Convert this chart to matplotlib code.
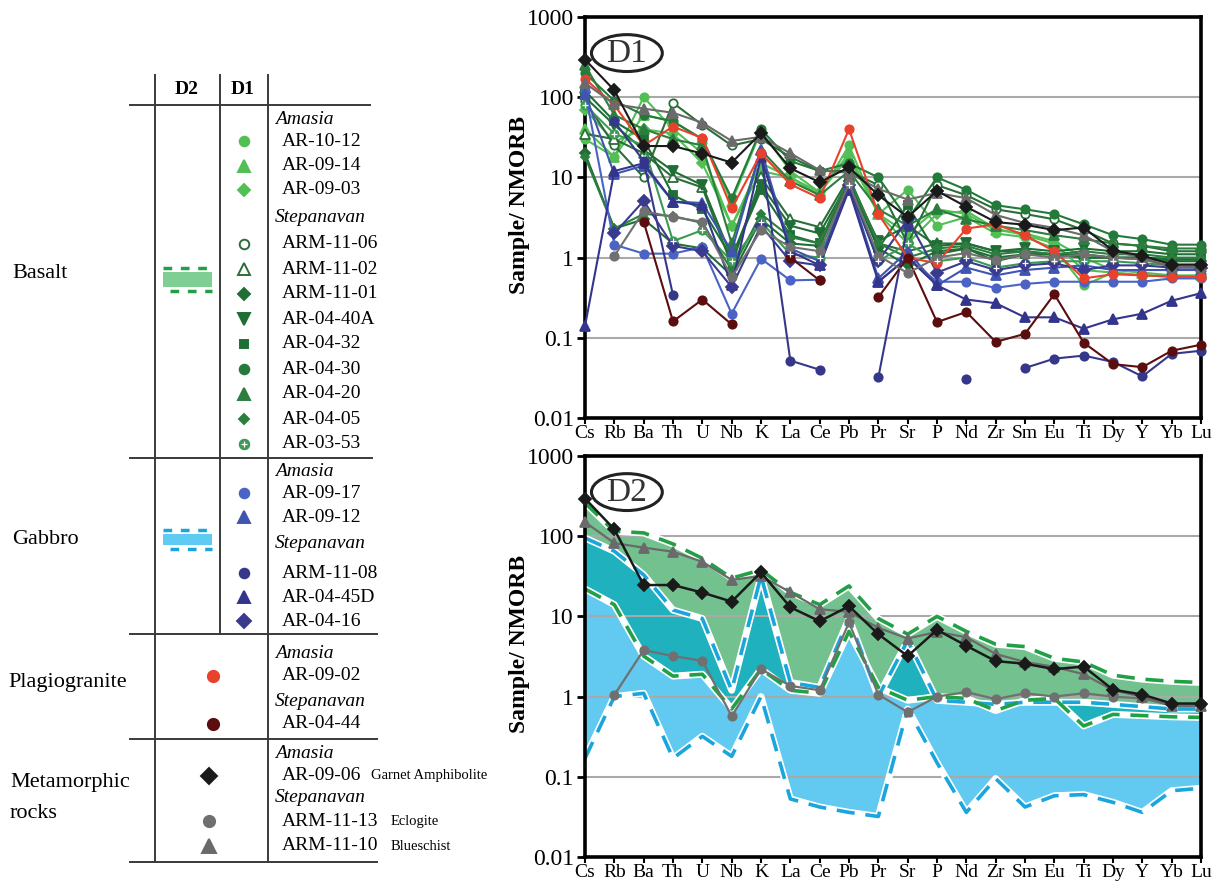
import numpy as np
import matplotlib
matplotlib.use('Agg')
import matplotlib.pyplot as plt
from matplotlib.patches import Ellipse, Rectangle
from matplotlib.ticker import NullLocator

plt.rcParams['font.family'] = ['Liberation Serif', 'DejaVu Serif']

#############################################################################
# data (Sample / NMORB)

elements = ['Cs', 'Rb', 'Ba', 'Th', 'U', 'Nb', 'K', 'La', 'Ce', 'Pb', 'Pr',
            'Sr', 'P', 'Nd', 'Zr', 'Sm', 'Eu', 'Ti', 'Dy', 'Y', 'Yb', 'Lu']
nan = np.nan

# basalt, Amasia
ar_10_12 = [30, 18, 100, 40, 20, 2.5, 15, 10, 6.0, 25, 3.5, 7.0, 2.5, 3.2, 2.0, 1.8, 1.3, 0.45, 0.65, 0.6, 0.58, 0.58]
ar_09_14 = [40, 18, 60, 50, 30, 5.0, 38, 12, 6.5, 20, 3.5, 2.0, 4.0, 3.5, 2.2, 2.0, 1.6, 1.0, 0.7, 0.65, 0.6, 0.6]
ar_09_03 = [70, 28, 40, 35, 15, 2.5, 12, 10, 6.5, 18, 3.5, 1.5, 3.5, 3.8, 2.3, 1.9, 1.5, 0.7, 0.65, 0.6, 0.58, 0.58]
# basalt, Stepanavan
arm_11_06 = [90, 25, 10, 85, 45, 25, 30, 18, 12, 12, 8.0, 1.5, 8.0, 6.0, 4.0, 3.5, 3.0, 2.2, 1.5, 1.4, 1.2, 1.2]
arm_11_02 = [35, 30, 20, 10, 7.5, 0.8, 10, 3.0, 2.4, 10, 1.5, 1.2, 1.5, 1.5, 1.2, 1.2, 1.1, 1.1, 1.0, 1.0, 0.95, 0.95]
arm_11_01 = [20, 2.3, 3.0, 1.5, 1.3, 0.6, 3.0, 1.5, 1.4, 9.0, 1.3, 0.8, 1.2, 1.3, 1.0, 1.1, 1.1, 1.0, 1.0, 0.95, 0.9, 0.9]
ar_04_40a = [100, 45, 22, 12, 8.0, 1.0, 8.0, 2.5, 2.0, 9.0, 1.6, 2.5, 1.4, 1.5, 1.2, 1.3, 1.2, 1.3, 1.2, 1.2, 1.1, 1.1]
ar_04_32 = [120, 50, 30, 6.0, 4.0, 1.0, 7.0, 1.9, 1.5, 10, 1.3, 4.5, 1.1, 1.3, 0.9, 1.1, 1.1, 1.0, 1.0, 1.0, 0.95, 0.95]
ar_04_30 = [200, 90, 60, 50, 30, 5.5, 40, 16, 12, 15, 10, 3.0, 10, 7.0, 4.5, 4.0, 3.5, 2.6, 1.9, 1.7, 1.45, 1.45]
ar_04_20 = [250, 60, 40, 30, 25, 1.5, 22, 9.0, 6.0, 12, 4.0, 2.5, 4.0, 3.0, 2.5, 2.2, 1.9, 1.7, 1.5, 1.4, 1.3, 1.3]
ar_04_05 = [18, 2.3, 3.5, 3.3, 2.7, 0.7, 3.5, 1.8, 1.5, 10, 1.5, 1.0, 1.3, 1.4, 1.1, 1.2, 1.1, 1.2, 1.1, 1.1, 1.0, 1.0]
ar_03_53 = [80, 35, 25, 1.6, 2.2, 0.9, 2.8, 1.1, 1.0, 8.0, 0.9, 1.5, 0.9, 1.0, 0.75, 0.85, 0.9, 0.9, 0.9, 0.85, 0.8, 0.8]
# gabbro
ar_09_17 = [120, 1.45, 1.12, 1.12, 1.35, 0.2, 0.97, 0.52, 0.53, nan, 0.5, 1.0, 0.5, 0.5, 0.42, 0.47, 0.5, 0.5, 0.5, 0.5, 0.55, 0.55]
ar_09_12 = [110, 11, 14, 5.0, 4.8, 1.2, 22, 1.3, 0.9, 8.0, 0.55, 1.2, 0.45, 0.75, 0.6, 0.7, 0.75, 0.8, 0.7, 0.7, 0.7, 0.7]
arm_11_08 = [nan, 50, 16, 0.34, nan, nan, 20, 0.052, 0.04, nan, 0.032, 2.5, nan, 0.031, nan, 0.042, 0.055, 0.06, 0.05, 0.033, 0.063, 0.069]
ar_04_45d = [0.14, 12, 15, 5.0, 4.5, 0.45, 18, 1.2, 0.8, 7.0, 0.5, 1.0, 0.45, 0.3, 0.27, 0.18, 0.18, 0.13, 0.17, 0.2, 0.29, 0.36]
ar_04_16 = [nan, 2.0, 5.1, 1.4, 1.2, 0.43, 2.5, 0.9, 0.8, 8.0, 0.9, 3.0, 0.65, 0.9, 0.7, 0.8, 0.85, 0.7, 0.8, 0.8, 0.75, 0.75]
# plagiogranite
ar_09_02 = [170, 80, 25, 43, 31, 4.1, 20, 8.2, 5.5, 40, 3.5, 1.0, 0.85, 2.3, 2.6, 1.9, 1.2, 0.55, 0.62, 0.6, 0.58, 0.58]
ar_04_44 = [nan, nan, 2.8, 0.16, 0.3, 0.147, nan, 1.0, 0.52, nan, 0.32, 1.0, 0.157, 0.21, 0.089, 0.112, 0.35, 0.087, 0.047, 0.043, 0.069, 0.082]
# metamorphic rocks
ar_09_06 = [295, 122, 24.6, 24.6, 19.8, 15.3, 35.5, 13, 8.7, 13.4, 6.0, 3.2, 6.8, 4.3, 2.77, 2.57, 2.2, 2.37, 1.22, 1.06, 0.82, 0.82]
arm_11_13 = [nan, 1.05, 3.8, 3.2, 2.8, 0.57, 2.2, 1.36, 1.2, 8.4, 1.06, 0.64, 1.0, 1.14, 0.93, 1.1, 1.0, 1.1, 1.0, 0.95, 0.78, 0.8]
arm_11_10 = [150, 82, 72, 64, 48, 28.5, 32, 20, 12.3, 11.4, 7.2, 5.3, 6.4, 5.5, 3.4, 2.7, 2.35, 1.9, 1.2, 1.0, 0.76, 0.76]

# D2 fields
basalt_hi = [260, 115, 110, 80, 53, 30, 38, 20, 14, 24, 9.4, 6.0, 10, 6.5, 4.5, 4.2, 3.0, 2.7, 1.85, 1.65, 1.55, 1.5]
basalt_lo = [22, 14, 3.2, 1.8, 1.9, 0.7, 2.2, 1.2, 1.1, 6.5, 1.3, 0.9, 1.0, 0.95, 0.67, 0.9, 0.95, 0.43, 0.6, 0.58, 0.56, 0.55]
gabbro_hi = [95, 65, 33, 12, 9.4, 1.2, 32, 1.5, 1.3, 9.4, 1.0, 5.0, 0.9, 0.85, 0.8, 0.85, 0.85, 0.85, 0.8, 0.75, 0.7, 0.7]
gabbro_lo = [0.17, 1.0, 1.1, 0.17, 0.32, 0.18, 1.0, 0.053, 0.042, 0.036, 0.032, 0.7, 0.15, 0.036, 0.095, 0.042, 0.058, 0.06, 0.048, 0.036, 0.067, 0.072]

#############################################################################

x = np.arange(len(elements))

lt_green = '#52bf55'
dk_green = '#1f6e35'
md_green = '#2c7e3f'

# name, values, color, marker, open marker, size
samples = [
    ('AR-10-12', ar_10_12, lt_green, 'o', False, 6),
    ('AR-09-14', ar_09_14, lt_green, '^', False, 7),
    ('AR-09-03', ar_09_03, lt_green, 'D', False, 5.5),
    ('ARM-11-06', arm_11_06, '#2b6e3a', 'o', True, 6),
    ('ARM-11-02', arm_11_02, '#2b6e3a', '^', True, 7),
    ('ARM-11-01', arm_11_01, dk_green, 'D', False, 5.5),
    ('AR-04-40A', ar_04_40a, dk_green, 'v', False, 7),
    ('AR-04-32', ar_04_32, dk_green, 's', False, 5.5),
    ('AR-04-30', ar_04_30, '#237a3a', 'o', False, 6),
    ('AR-04-20', ar_04_20, md_green, '^', False, 7),
    ('AR-04-05', ar_04_05, md_green, 'D', False, 4.5),
    ('AR-03-53', ar_03_53, '#3c9a55', 'o', False, 6),
    ('AR-09-17', ar_09_17, '#4a63c4', 'o', False, 6),
    ('AR-09-12', ar_09_12, '#3f55b0', '^', False, 7),
    ('ARM-11-08', arm_11_08, '#35378a', 'o', False, 6),
    ('AR-04-45D', ar_04_45d, '#33358c', '^', False, 7),
    ('AR-04-16', ar_04_16, '#3a3a8f', 'D', False, 6),
    ('AR-09-02', ar_09_02, '#e8412c', 'o', False, 6),
    ('AR-04-44', ar_04_44, '#5c0d0d', 'o', False, 6),
    ('ARM-11-13', arm_11_13, '#707070', 'o', False, 6),
    ('ARM-11-10', arm_11_10, '#6a6a6a', '^', False, 7),
    ('AR-09-06', ar_09_06, '#1a1a1a', 'D', False, 6),
]


def draw_sample(ax, vals, color, marker, hollow, ms, lw=1.5, z=3):
    ax.plot(x, vals, color=color, lw=lw, marker=marker, ms=ms,
            mfc='white' if hollow else color, mec=color, mew=1.3,
            clip_on=False, zorder=z)
    if marker == 'o' and color == '#3c9a55':
        ax.plot(x, vals, ls='none', marker='+', ms=4, mec='white', mew=0.9,
                clip_on=False, zorder=z + 0.1)


def setup(ax, tag):
    ax.set_yscale('log')
    ax.set_ylim(0.01, 1000)
    ax.set_xlim(0, len(elements) - 1)
    ax.set_xticks(x)
    ax.set_xticklabels(elements, fontsize=14)
    ticks = [0.01, 0.1, 1, 10, 100, 1000]
    ax.set_yticks(ticks)
    ax.set_yticklabels(['0.01', '0.1', '1', '10', '100', '1000'], fontsize=17)
    ax.yaxis.set_minor_locator(NullLocator())
    for v in [0.1, 1, 10, 100]:
        ax.axhline(v, color='#a9a9a9', lw=1.5, zorder=1.5)
    for s in ax.spines.values():
        s.set_linewidth(2.6)
    ax.tick_params(axis='y', direction='out', length=6, width=2, pad=2)
    ax.tick_params(axis='x', direction='out', length=4, width=1.5, pad=1)
    ax.set_ylabel('Sample/ NMORB', fontsize=17, fontweight='bold')
    ax.yaxis.set_label_coords(-0.09, 0.53)
    ax.add_patch(Ellipse((0.068, 0.91), 0.115, 0.092, transform=ax.transAxes,
                         fill=False, lw=2.2, ec='#222222', zorder=6))
    ax.text(0.068, 0.908, tag, transform=ax.transAxes, ha='center',
            va='center', fontsize=24, color='#333333', zorder=6)


fig = plt.figure(figsize=(12.26, 8.85), dpi=100)

#############################################################################
# left table / legend in pixel coordinates

lax = fig.add_axes([0, 0, 1, 1], zorder=-1)
lax.set_xlim(0, 1226)
lax.set_ylim(885, 0)
lax.axis('off')

lc = '#3a3a3a'
for yy, x1 in [(105, 370), (458, 372), (634, 377), (739, 377), (862, 377)]:
    lax.plot([130, x1], [yy, yy], color=lc, lw=1.4)
lax.plot([155, 155], [75, 862], color=lc, lw=1.4)
lax.plot([220, 220], [75, 634], color=lc, lw=1.4)
lax.plot([268, 268], [75, 862], color=lc, lw=1.4)
lax.text(187, 89, 'D2', ha='center', va='center', fontsize=14, fontweight='bold')
lax.text(243, 89, 'D1', ha='center', va='center', fontsize=14, fontweight='bold')

lax.text(12, 273, 'Basalt', va='center', fontsize=16)
lax.text(12, 539, 'Gabbro', va='center', fontsize=16)
lax.text(8, 683, 'Plagiogranite', va='center', fontsize=16)
lax.text(10, 783, 'Metamorphic', va='center', fontsize=16)
lax.text(10, 813, 'rocks', va='center', fontsize=16)

groups = [('Amasia', 119), ('Stepanavan', 217), ('Amasia', 472), ('Stepanavan', 544),
          ('Amasia', 653), ('Stepanavan', 702), ('Amasia', 753), ('Stepanavan', 798)]
for g, yy in groups:
    lax.text(275, yy, g, va='center', fontsize=14, style='italic')

rows_y = [141, 166, 190, 244, 269, 294, 319, 344, 369, 394, 419, 444,
          493, 517, 573, 597, 621, 676, 724, 821, 846, 776]
rows_x = [244] * 17 + [213, 213, 209, 209, 209]
for (name, vals, color, marker, hollow, ms), yy, xx in zip(samples, rows_y, rows_x):
    big = 1.35 if xx < 220 else 1.15
    lax.plot([xx], [yy], marker=marker, ms=ms * big, color=color,
             mfc='white' if hollow else color, mec=color, mew=1.4, ls='none')
    if color == '#3c9a55':
        lax.plot([xx], [yy], marker='+', ms=4, mec='white', mew=0.9, ls='none')
    lax.text(282, yy, name, va='center', fontsize=14)

lax.text(371, 776, 'Garnet Amphibolite', va='center', fontsize=10.5)
lax.text(391, 821, 'Eclogite', va='center', fontsize=10.5)
lax.text(391, 846, 'Blueschist', va='center', fontsize=10.5)

# D2 field icons
lax.add_patch(Rectangle((163, 272), 49, 15, color='#7fcf95', lw=0))
lax.plot([163, 212], [268, 268], color='#22a046', lw=2.5, dashes=(2.5, 2.5))
lax.plot([170, 212], [291, 291], color='#22a046', lw=2.5, dashes=(2.5, 2.5))
lax.add_patch(Rectangle((163, 534), 49, 11, color='#5ecbf2', lw=0))
lax.plot([163, 212], [530, 530], color='#1aa6dc', lw=2.5, dashes=(2.5, 2.5))
lax.plot([170, 212], [549, 549], color='#1aa6dc', lw=2.5, dashes=(2.5, 2.5))

#############################################################################
# D1 spider diagram

ax1 = fig.add_axes([585 / 1226, 1 - 418 / 885, 616 / 1226, 401 / 885])
setup(ax1, 'D1')
for i, (name, vals, color, marker, hollow, ms) in enumerate(samples):
    draw_sample(ax1, vals, color, marker, hollow, ms, z=3 + i * 0.01)

#############################################################################
# D2 fields

ax2 = fig.add_axes([585 / 1226, 1 - 857 / 885, 616 / 1226, 401 / 885])
setup(ax2, 'D2')

xf = np.linspace(0, len(elements) - 1, 2101)


def logi(v):
    return np.interp(xf, x, np.log10(v))


bu, bl = logi(basalt_hi), logi(basalt_lo)
gu, gl = logi(gabbro_hi), logi(gabbro_lo)
ax2.fill_between(xf, 10 ** gl, 10 ** gu, color='#62c9f0', lw=0, zorder=1)
ax2.fill_between(xf, 10 ** bl, 10 ** bu, color='#74c190', lw=0, zorder=1.1)
lo = np.maximum(bl, gl)
hi = np.minimum(bu, gu)
ax2.fill_between(xf, 10 ** lo, 10 ** hi, where=hi > lo, color='#1fb1bd',
                 lw=0, zorder=1.2)

for bound, col in [(gabbro_hi, '#1aa6dc'), (gabbro_lo, '#1aa6dc'),
                   (basalt_hi, '#22a046'), (basalt_lo, '#22a046')]:
    ax2.plot(x, bound, color='white', lw=5, zorder=1.6, solid_joinstyle='round')
for bound, col in [(gabbro_hi, '#1aa6dc'), (gabbro_lo, '#1aa6dc'),
                   (basalt_hi, '#22a046'), (basalt_lo, '#22a046')]:
    ax2.plot(x, bound, color=col, lw=2.6, dashes=(5, 3), zorder=1.7)

draw_sample(ax2, arm_11_13, '#707070', 'o', False, 6, lw=1.6)
draw_sample(ax2, arm_11_10, '#6a6a6a', '^', False, 7, lw=1.6)
draw_sample(ax2, ar_09_06, '#1a1a1a', 'D', False, 6.5, lw=1.8)

fig.savefig('out.png', dpi=100)
